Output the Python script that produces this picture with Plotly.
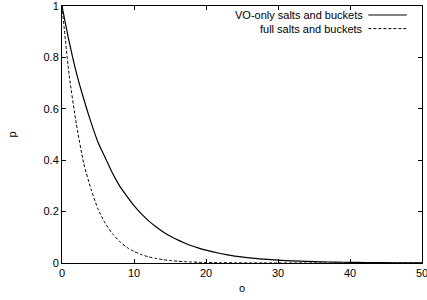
import plotly.graph_objects as go

# x positions (o) at which values were read
o_vals = [0, 1, 2, 3, 4, 5, 6, 7, 8, 9, 10, 11, 12, 13, 14, 15, 16, 17, 18, 19, 20,
          22, 24, 26, 28, 30, 32, 34, 36, 38, 40, 42, 44, 46, 48, 50]

# VO-only salts and buckets (solid)
p_vo_only = [1.0, 0.86, 0.74, 0.64, 0.55, 0.47, 0.41, 0.35, 0.30, 0.26, 0.223,
             0.192, 0.165, 0.142, 0.122, 0.105, 0.091, 0.078, 0.067, 0.058, 0.050,
             0.037, 0.027, 0.020, 0.015, 0.011, 0.008, 0.006, 0.0045, 0.0033, 0.0025,
             0.0018, 0.0013, 0.001, 0.0007, 0.0005]

# full salts and buckets (dashed)
p_full = [1.0, 0.73, 0.54, 0.39, 0.29, 0.21, 0.155, 0.114, 0.084, 0.061, 0.045,
          0.033, 0.024, 0.018, 0.013, 0.0096, 0.007, 0.0052, 0.0038, 0.0028, 0.002,
          0.0011, 0.0006, 0.0003, 0.0002, 0.0001, 0.0, 0.0, 0.0, 0.0, 0.0,
          0.0, 0.0, 0.0, 0.0, 0.0]

series_names = ["VO-only salts and buckets", "full salts and buckets"]
x_ticks = [0, 10, 20, 30, 40, 50]
y_ticks = [0, 0.2, 0.4, 0.6, 0.8, 1]

FONT = "Liberation Sans, Arial, Helvetica, sans-serif"

fig = go.Figure()
fig.add_trace(go.Scatter(x=o_vals, y=p_vo_only, mode="lines", name=series_names[0],
                         line=dict(color="black", width=1.2, shape="spline", smoothing=0.6),
                         showlegend=False))
fig.add_trace(go.Scatter(x=o_vals, y=p_full, mode="lines", name=series_names[1],
                         line=dict(color="black", width=1, dash="3px,2px", shape="spline",
                                   smoothing=0.6),
                         showlegend=False))

axis_common = dict(showline=True, linecolor="black", linewidth=1, mirror="allticks",
                   ticks="inside", ticklen=4, tickcolor="black", showgrid=False,
                   zeroline=False, automargin=False, ticklabeloverflow="allow",
                   tickfont=dict(family=FONT, size=11, color="black"))

fig.update_xaxes(range=[0, 50], tickvals=x_ticks, **axis_common,
                 title=dict(text="o", font=dict(family=FONT, size=11, color="black"), standoff=6))
fig.update_yaxes(range=[0, 1], tickvals=y_ticks, **axis_common,
                 title=dict(text="p", font=dict(family=FONT, size=11, color="black"), standoff=24))

# gnuplot-style legend: right-aligned text, sample line on the right
legend_rows = [(0.965, "solid"), (0.912, "3px,2px")]
for name, (ypos, dash) in zip(series_names, legend_rows):
    fig.add_annotation(xref="paper", yref="paper", x=0.843, y=ypos, text=name,
                       showarrow=False, xanchor="right", yanchor="middle",
                       font=dict(family=FONT, size=11, color="black"))
    fig.add_shape(type="line", xref="paper", yref="paper", x0=0.851, x1=0.958,
                  y0=ypos, y1=ypos, line=dict(color="black", width=1, dash=dash))

fig.update_layout(width=427, height=300, margin=dict(l=62, r=5, t=6, b=37),
                  paper_bgcolor="white", plot_bgcolor="white",
                  font=dict(family=FONT, size=11, color="black"))

fig.write_html("out.html", config={"displayModeBar": False},
               post_script="document.body.style.margin='0';")
